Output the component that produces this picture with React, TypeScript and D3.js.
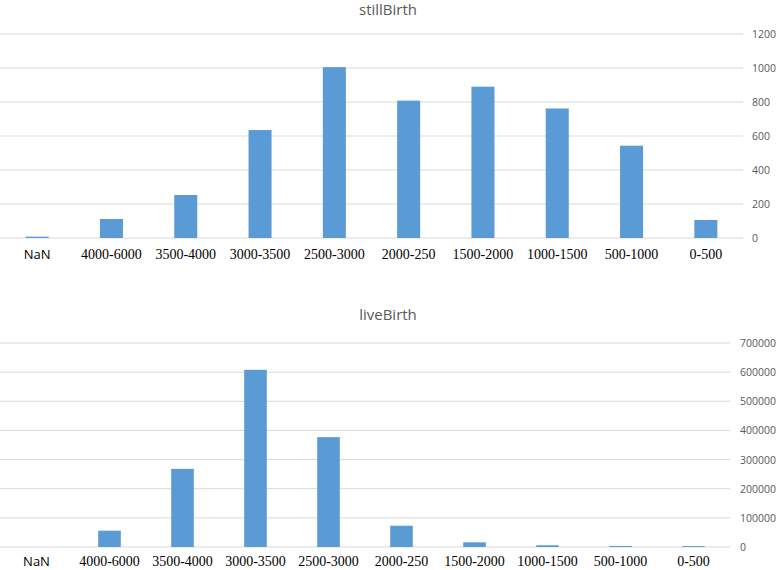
import React from "react";
import * as d3 from "d3";

const categories = ["NaN", "4000-6000", "3500-4000", "3000-3500", "2500-3000", "2000-250", "1500-2000", "1000-1500", "500-1000", "0-500"];
const stillBirth = [8, 112, 253, 635, 1005, 808, 890, 762, 543, 106];
const liveBirth = [0, 56000, 268000, 608000, 377000, 73000, 16000, 6000, 3500, 3000];
const stillTicks = [0, 200, 400, 600, 800, 1000, 1200];
const liveTicks = [0, 100000, 200000, 300000, 400000, 500000, 600000, 700000];

const BLUE = "#5B9BD5";
const GRID = "#D9D9D9";
const TXT = "#595959";

type PanelProps = {
  title: string;
  values: number[];
  ticks: number[];
  top: number;
  zeroY: number;
  plotRight: number;
  labelX: number;
  titleY: number;
  labelDy: number;
};

function Panel({ title, values, ticks, zeroY, top, plotRight, labelX, titleY, labelDy }: PanelProps) {
  const x = d3.scaleBand<string>().domain(categories).range([0, plotRight]).paddingInner(0).paddingOuter(0);
  const y = d3.scaleLinear().domain([0, ticks[ticks.length - 1]]).range([zeroY, top]);
  const bw = x.bandwidth() * 0.31;
  return (
    <g>
      <text x={388} y={titleY} textAnchor="middle" fontFamily="'Open Sans', sans-serif" fontSize={15} fill={TXT}>{title}</text>
      {ticks.map((t) => (
        <g key={t}>
          <line x1={0} x2={plotRight} y1={y(t)} y2={y(t)} stroke={GRID} strokeWidth={1} />
          <text x={labelX} y={y(t) + 4} fontFamily="'Open Sans', sans-serif" fontSize={10.5} fill={TXT}>{t}</text>
        </g>
      ))}
      {categories.map((c, i) => (
        <rect key={c} x={(x(c) as number) + x.bandwidth() / 2 - bw / 2} y={y(values[i])} width={bw} height={zeroY - y(values[i])} fill={BLUE} />
      ))}
      {categories.map((c) => (
        <text key={c} x={(x(c) as number) + x.bandwidth() / 2} y={zeroY + labelDy} textAnchor="middle"
          fontFamily={c === "NaN" ? "'Open Sans', sans-serif" : "'Liberation Serif', serif"} fontSize={c === "NaN" ? 13 : 14} fill="#000">{c}</text>
      ))}
    </g>
  );
}

export default function App() {
  return (
    <svg width={778} height={570} style={{ position: "absolute", left: 0, top: 0, background: "#fff" }}>
      <rect width={778} height={570} fill="#fff" />
      <Panel title="stillBirth" values={stillBirth} ticks={stillTicks} top={34} zeroY={238} plotRight={743} labelX={752} titleY={15} labelDy={21} />
      <Panel title="liveBirth" values={liveBirth} ticks={liveTicks} top={343} zeroY={547} plotRight={730} labelX={740} titleY={320} labelDy={19} />
    </svg>
  );
}
